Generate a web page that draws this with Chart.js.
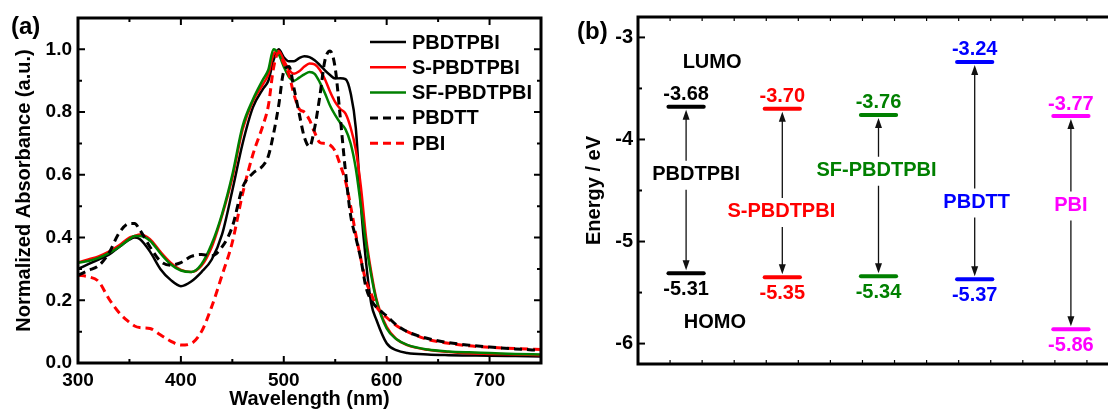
<!DOCTYPE html>
<html>
<head>
<meta charset="utf-8">
<script src="https://cdn.jsdelivr.net/npm/chart.js@4.4.0/dist/chart.umd.min.js"></script>
<style>
html, body { margin: 0; padding: 0; background: #fff; overflow: hidden; width: 1108px; height: 410px; }
#chartA { position: absolute; left: 0; top: 0; }
#chartB { position: absolute; left: 560px; top: 0; }
</style>
</head>
<body>
<canvas id="chartA" width="555" height="410"></canvas>
<canvas id="chartB" width="570" height="410"></canvas>
<script>
// ---- (a) absorption spectra ----
const wavelength = [300,310,320,330,340,350,355,360,370,380,390,400,410,420,430,440,450,460,470,480,485,490,495,500,505,510,515,520,525,530,535,540,545,550,555,560,565,570,575,580,585,590,600,610,620,640,660,680,700,725,750];
const absPBDTPBI = [0.30,0.315,0.33,0.345,0.37,0.393,0.40,0.395,0.355,0.30,0.265,0.245,0.26,0.29,0.33,0.41,0.55,0.70,0.815,0.875,0.90,0.965,1.0,0.975,0.962,0.962,0.972,0.978,0.975,0.965,0.95,0.933,0.918,0.907,0.908,0.905,0.86,0.75,0.50,0.32,0.19,0.138,0.063,0.04,0.032,0.027,0.025,0.024,0.023,0.022,0.021];
const absSPBDTPBI = [0.32,0.33,0.34,0.355,0.375,0.40,0.405,0.41,0.395,0.355,0.32,0.297,0.29,0.31,0.37,0.47,0.59,0.745,0.835,0.89,0.92,0.985,0.995,0.965,0.935,0.922,0.93,0.945,0.955,0.952,0.935,0.905,0.865,0.832,0.81,0.795,0.75,0.68,0.56,0.40,0.29,0.205,0.115,0.075,0.057,0.042,0.035,0.031,0.029,0.027,0.025];
const absSFPBDTPBI = [0.32,0.325,0.335,0.35,0.37,0.395,0.405,0.405,0.39,0.35,0.315,0.295,0.29,0.315,0.38,0.475,0.60,0.755,0.84,0.905,0.935,1.0,0.985,0.945,0.912,0.90,0.91,0.92,0.928,0.922,0.895,0.86,0.82,0.79,0.765,0.745,0.70,0.62,0.50,0.38,0.28,0.20,0.11,0.075,0.058,0.043,0.037,0.034,0.032,0.029,0.027];
const absPBDTT = [0.28,0.295,0.31,0.35,0.415,0.445,0.445,0.425,0.37,0.325,0.312,0.32,0.34,0.346,0.342,0.37,0.435,0.56,0.605,0.63,0.66,0.73,0.82,0.93,0.945,0.875,0.795,0.72,0.69,0.75,0.85,0.965,0.995,0.94,0.78,0.61,0.47,0.40,0.33,0.24,0.20,0.178,0.15,0.12,0.10,0.078,0.065,0.057,0.051,0.045,0.04];
const absPBI = [0.28,0.275,0.26,0.205,0.16,0.13,0.118,0.113,0.11,0.09,0.07,0.057,0.062,0.10,0.18,0.28,0.385,0.54,0.665,0.76,0.82,0.94,0.99,0.955,0.92,0.855,0.81,0.80,0.775,0.735,0.703,0.70,0.695,0.675,0.63,0.58,0.50,0.41,0.33,0.26,0.22,0.18,0.145,0.118,0.10,0.075,0.063,0.055,0.05,0.046,0.043];

// ---- (b) energy levels ----
const polymers = ['PBDTPBI', 'S-PBDTPBI', 'SF-PBDTPBI', 'PBDTT', 'PBI'];
const lumo = [-3.68, -3.70, -3.76, -3.24, -3.77];
const homo = [-5.31, -5.35, -5.34, -5.37, -5.86];
const levelColors = ['#000000', '#ff0000', '#008000', '#0000ff', '#ff00ff'];

const FONT = "'Liberation Sans', Arial, sans-serif";
Chart.defaults.font.family = FONT;
Chart.defaults.color = '#000';

function pts(ys) {
  return wavelength.map((w, i) => ({ x: w, y: ys[i] }));
}

function drawTicks(ctx, area, scale, values, len, horizontal, both) {
  values.forEach(v => {
    const p = scale.getPixelForValue(v);
    ctx.beginPath();
    if (horizontal) {
      ctx.moveTo(p, area.bottom); ctx.lineTo(p, area.bottom - len);
      if (both) { ctx.moveTo(p, area.top); ctx.lineTo(p, area.top + len); }
    } else {
      ctx.moveTo(area.left, p); ctx.lineTo(area.left + len, p);
      if (both) { ctx.moveTo(area.right, p); ctx.lineTo(area.right - len, p); }
    }
    ctx.stroke();
  });
}

const spectraSeries = [
  { label: 'PBDTPBI', data: absPBDTPBI, color: '#000000', dash: [] },
  { label: 'S-PBDTPBI', data: absSPBDTPBI, color: '#ff0000', dash: [] },
  { label: 'SF-PBDTPBI', data: absSFPBDTPBI, color: '#008000', dash: [] },
  { label: 'PBDTT', data: absPBDTT, color: '#000000', dash: [8, 5] },
  { label: 'PBI', data: absPBI, color: '#ff0000', dash: [8, 5] }
];

const framePluginA = {
  id: 'frameA',
  afterDraw(chart) {
    const { ctx, chartArea: a, scales } = chart;
    ctx.save();
    ctx.strokeStyle = '#000';
    ctx.lineWidth = 2;
    const xMaj = [300, 400, 500, 600, 700], xMin = [350, 450, 550, 650, 750];
    const yMaj = [0, 0.2, 0.4, 0.6, 0.8, 1.0], yMin = [0.1, 0.3, 0.5, 0.7, 0.9];
    drawTicks(ctx, a, scales.x, xMaj, 7, true, true);
    drawTicks(ctx, a, scales.x, xMin, 4, true, true);
    drawTicks(ctx, a, scales.y, yMaj, 7, false, true);
    drawTicks(ctx, a, scales.y, yMin, 4, false, true);
    ctx.lineWidth = 3;
    ctx.strokeRect(a.left, a.top, a.right - a.left, a.bottom - a.top);

    // legend
    ctx.font = 'bold 20px ' + FONT;
    ctx.textBaseline = 'middle';
    ctx.textAlign = 'left';
    spectraSeries.forEach((s, i) => {
      const y = 42 + i * 25.3;
      ctx.beginPath();
      ctx.strokeStyle = s.color;
      ctx.lineWidth = s.dash.length ? 3 : 2.5;
      ctx.setLineDash(s.dash);
      ctx.moveTo(370, y); ctx.lineTo(406, y);
      ctx.stroke();
      ctx.setLineDash([]);
      ctx.fillStyle = '#000';
      ctx.fillText(s.label, 412, y + 1);
    });

    ctx.font = 'bold 24px ' + FONT;
    ctx.fillText('(a)', 11, 27);
    ctx.restore();
  }
};

new Chart(document.getElementById('chartA'), {
  type: 'line',
  data: {
    datasets: spectraSeries.map((s, i) => ({
      label: s.label,
      data: pts(s.data),
      borderColor: s.color,
      borderWidth: s.dash.length ? 3 : 2.5,
      borderDash: s.dash,
      pointRadius: 0,
      fill: false,
      cubicInterpolationMode: 'monotone',
      order: s.dash.length ? 0 : 5 - i
    }))
  },
  options: {
    responsive: false,
    animation: false,
    layout: { padding: { left: 0, top: 18, right: 14, bottom: 0 } },
    plugins: { legend: { display: false }, tooltip: { enabled: false } },
    scales: {
      x: {
        type: 'linear', min: 300, max: 750,
        grid: { display: false, drawTicks: false },
        border: { display: false },
        ticks: { stepSize: 100, includeBounds: false, padding: 6, font: { size: 19, weight: 'bold' } },
        title: { display: true, text: 'Wavelength (nm)', font: { size: 20, weight: 'bold' }, padding: { top: 0, bottom: -1 } },
        afterFit(scale) { scale.height = 47; }
      },
      y: {
        min: 0, max: 1.1,
        grid: { display: false, drawTicks: false },
        border: { display: false },
        ticks: { stepSize: 0.2, includeBounds: false, padding: 6, font: { size: 19, weight: 'bold' },
          callback: v => v.toFixed(1) },
        title: { display: true, text: 'Normalized Absorbance (a.u.)', font: { size: 20, weight: 'bold' }, padding: { top: 12, bottom: 0 } },
        afterFit(scale) { scale.width = 78; }
      }
    }
  },
  plugins: [framePluginA]
});

// ---- panel (b) ----
const levelX = [1.5, 4.5, 7.5, 10.5, 13.5];
const nameY = [-4.345, -4.71, -4.307, -4.617, -4.646];
const nameDx = [10, -1, -2, 2, 0];

const levelDatasets = [];
polymers.forEach((p, i) => {
  [lumo[i], homo[i]].forEach(e => {
    levelDatasets.push({
      label: p,
      data: [{ x: levelX[i] - 0.55, y: e }, { x: levelX[i] + 0.55, y: e }],
      borderColor: levelColors[i],
      borderWidth: 4,
      pointRadius: 0,
      borderCapStyle: 'round'
    });
  });
});

function arrowHead(ctx, x, y, dir) {
  ctx.beginPath();
  ctx.moveTo(x, y);
  ctx.lineTo(x - 3.5, y - dir * 10);
  ctx.lineTo(x + 3.5, y - dir * 10);
  ctx.closePath();
  ctx.fill();
}

const levelPluginB = {
  id: 'levelsB',
  afterDraw(chart) {
    const { ctx, chartArea: a, scales } = chart;
    const xs = scales.x, ys = scales.y;
    ctx.save();
    ctx.strokeStyle = '#000';
    ctx.lineWidth = 1.2;
    const xt = [];
    for (let v = 1; v < 15; v++) xt.push(v);
    drawTicks(ctx, a, xs, xt, 4, true, true);
    ctx.lineWidth = 2;
    drawTicks(ctx, a, ys, [-6, -5, -4, -3], 7, false, false);
    drawTicks(ctx, a, ys, [-5.5, -4.5, -3.5], 4, false, false);
    ctx.lineWidth = 3;
    ctx.beginPath();
    ctx.moveTo(a.right, a.top); ctx.lineTo(a.left, a.top);
    ctx.lineTo(a.left, a.bottom); ctx.lineTo(a.right, a.bottom);
    ctx.stroke();

    ctx.textAlign = 'center';
    ctx.textBaseline = 'middle';
    polymers.forEach((p, i) => {
      const x = xs.getPixelForValue(levelX[i]);
      const yL = ys.getPixelForValue(lumo[i]);
      const yH = ys.getPixelForValue(homo[i]);
      const yN = ys.getPixelForValue(nameY[i]);
      ctx.strokeStyle = '#111';
      ctx.fillStyle = '#111';
      ctx.lineWidth = 1.3;
      ctx.beginPath();
      ctx.moveTo(x, yL + 6); ctx.lineTo(x, yN - 14);
      ctx.moveTo(x, yN + 15); ctx.lineTo(x, yH - 6);
      ctx.stroke();
      arrowHead(ctx, x, yL + 3, -1);
      arrowHead(ctx, x, yH - 3, 1);

      ctx.fillStyle = levelColors[i];
      ctx.font = 'bold 20px ' + FONT;
      ctx.fillText(lumo[i].toFixed(2), x, yL - 12);
      ctx.fillText(homo[i].toFixed(2), x, yH + 16);
      ctx.fillText(p, x + nameDx[i], yN);
    });

    ctx.fillStyle = '#000';
    ctx.font = 'bold 20px ' + FONT;
    ctx.fillText('LUMO', xs.getPixelForValue(2.31), ys.getPixelForValue(-3.25));
    ctx.fillText('HOMO', xs.getPixelForValue(2.4), ys.getPixelForValue(-5.795));
    ctx.textAlign = 'left';
    ctx.font = 'bold 24px ' + FONT;
    ctx.fillText('(b)', 17, 32);
    ctx.restore();
  }
};

new Chart(document.getElementById('chartB'), {
  type: 'line',
  data: { datasets: levelDatasets },
  options: {
    responsive: false,
    animation: false,
    layout: { padding: { left: 0, top: 12, right: 11, bottom: 0 } },
    plugins: { legend: { display: false }, tooltip: { enabled: false } },
    scales: {
      x: {
        type: 'linear', min: 0, max: 15,
        grid: { display: false, drawTicks: false },
        border: { display: false },
        ticks: { display: false },
        afterFit(scale) { scale.height = 46; }
      },
      y: {
        min: -6.2, max: -2.8,
        grid: { display: false, drawTicks: false },
        border: { display: false },
        ticks: { stepSize: 1, includeBounds: false, padding: 5, font: { size: 20, weight: 'bold' },
          callback: v => String(v) },
        title: { display: true, text: 'Energy / eV', font: { size: 20, weight: 'bold' }, padding: { top: 22, bottom: 0 } },
        afterFit(scale) { scale.width = 78; }
      }
    }
  },
  plugins: [levelPluginB]
});
</script>
</body>
</html>
